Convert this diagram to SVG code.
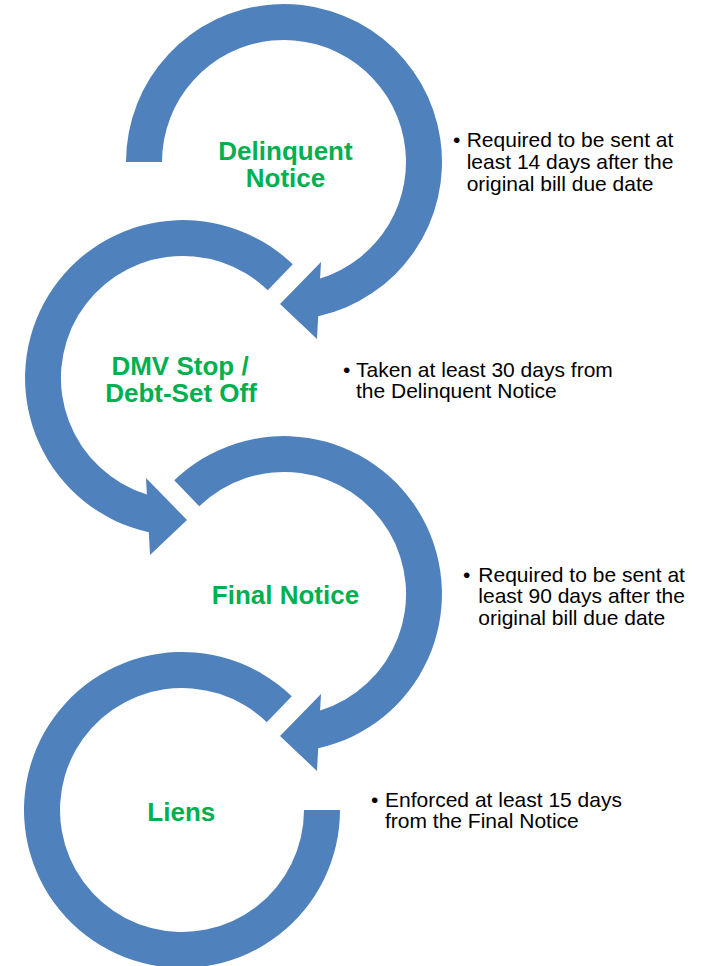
<svg xmlns="http://www.w3.org/2000/svg" width="704" height="966" viewBox="0 0 704 966">
<style>
.ring{fill:#4F81BD;stroke:none}
.lbl{font-family:"Liberation Sans",Arial,sans-serif;font-weight:bold;font-size:26px;fill:#00B050;text-anchor:middle}
.desc{font-family:"Liberation Sans",Arial,sans-serif;font-size:21px;fill:#000000}
</style>
<rect x="0" y="0" width="704" height="966" fill="#FFFFFF"/>
<g id="node-delinquent">
<path class="ring" d="M 126,162 A 158 158 0 1 1 318.2,316.3 L 317,339 L 280,304 L 321,262 L 320.1,278.5 A 122 122 0 1 0 162,162 Z"/>
<text class="lbl" x="285.5" y="159.5">Delinquent</text>
<text class="lbl" x="285.5" y="186.7">Notice</text>
</g>
<g id="node-dmv">
<path class="ring" d="M 292.76,264.35 A 158 158 0 1 0 148.8,532.3 L 150,555 L 187,520 L 146,478 L 146.9,494.5 A 122 122 0 1 1 267.75,290.25 Z"/>
<text class="lbl" x="180" y="375">DMV Stop /</text>
<text class="lbl" x="181" y="402.2">Debt-Set Off</text>
</g>
<g id="node-final">
<path class="ring" d="M 174.24,480.35 A 158 158 0 1 1 318.2,748.3 L 317,771 L 280,736 L 321,694 L 320.1,710.5 A 122 122 0 1 0 199.25,506.25 Z"/>
<text class="lbl" x="285.5" y="604.3">Final Notice</text>
</g>
<g id="node-liens">
<path class="ring" d="M 291.76,696.35 A 158 158 0 1 0 340,810 L 304,810 A 122 122 0 1 1 266.75,722.25 Z"/>
<text class="lbl" x="181.3" y="821">Liens</text>
</g>
<g id="connectors"></g>
<g id="desc-delinquent" class="desc">
<text x="453" y="147.3">•</text>
<text x="466.7" y="147.3">Required to be sent at</text>
<text x="466.7" y="169">least 14 days after the</text>
<text x="466.7" y="190.7">original bill due date</text>
</g>
<g id="desc-dmv" class="desc">
<text x="343" y="376.7">•</text>
<text x="356" y="376.7">Taken at least 30 days from</text>
<text x="356" y="398.4">the Delinquent Notice</text>
</g>
<g id="desc-final" class="desc">
<text x="463" y="581.7">•</text>
<text x="478.3" y="581.7">Required to be sent at</text>
<text x="478.3" y="603.3">least 90 days after the</text>
<text x="478.3" y="625">original bill due date</text>
</g>
<g id="desc-liens" class="desc">
<text x="371" y="806.7">•</text>
<text x="385" y="806.7">Enforced at least 15 days</text>
<text x="385" y="828.4">from the Final Notice</text>
</g>
</svg>
